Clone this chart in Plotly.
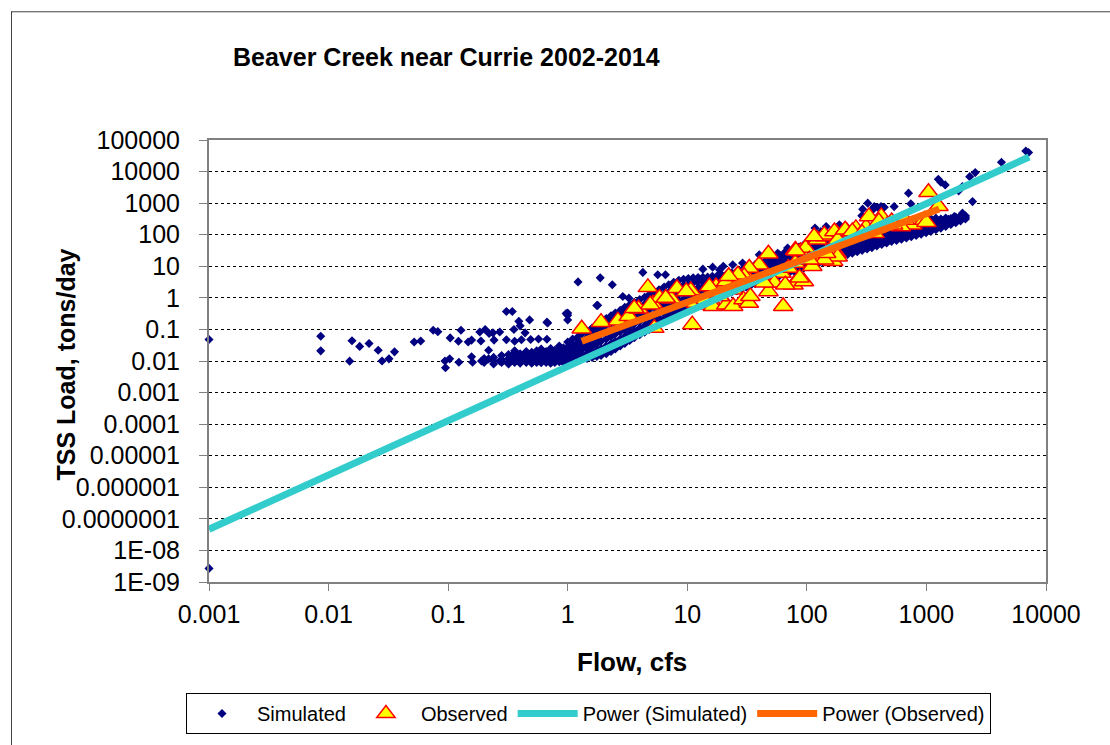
import plotly.graph_objects as go

FONT = "Liberation Sans, Arial, sans-serif"

# ---------------- data ----------------
# Simulated: scattered (isolated) points
sim_sparse_flow = [0.001, 0.001, 0.0086, 0.0086, 0.0157, 0.015, 0.0182, 0.0218, 0.026, 0.028,
                   0.032, 0.0356, 0.052, 0.059, 0.075, 0.082, 0.094, 0.095, 0.103, 0.104,
                   0.122, 0.123, 0.128, 0.147, 0.157, 0.157, 0.16, 0.184, 0.188, 0.19,
                   0.204, 0.218, 0.22, 0.218, 0.237, 0.242, 0.27, 0.27, 0.307, 0.344,
                   0.307, 0.34, 0.355, 0.36, 0.36, 0.39, 0.40, 0.41, 0.44, 0.48,
                   0.49, 0.57, 0.68, 0.67, 0.97, 1.0, 1.78, 1.22, 1.87, 2.36,
                   1.75, 4.25, 5.66, 6.57, 2.89, 3.25, 1.0, 1.0, 0.67, 13.5,
                   16.3, 18.6, 20, 24, 29, 40, 57, 69, 98, 117,
                   131, 145, 187, 213, 288, 293, 323, 359, 331, 351,
                   366, 390, 417, 444, 537, 708, 740, 1140, 1200, 1257,
                   1320, 1320, 1436, 1530, 1710, 1860, 2000, 2000, 2300, 2430,
                   2560, 4240, 6780, 7150]
sim_sparse_load = [0.048, 2.7e-9, 0.061, 0.021, 0.044, 0.0099, 0.029, 0.036, 0.022, 0.01,
                   0.0117, 0.0195, 0.040, 0.043, 0.094, 0.085, 0.01, 0.0061, 0.0117, 0.054,
                   0.042, 0.0091, 0.094, 0.040, 0.046, 0.0136, 0.0091, 0.083, 0.043, 0.01,
                   0.1, 0.022, 0.074, 0.0117, 0.078, 0.046, 0.083, 0.01, 0.37, 0.37,
                   0.047, 0.0102, 0.1, 0.042, 0.021, 0.18, 0.13, 0.047, 0.078, 0.2,
                   0.048, 0.05, 0.16, 0.049, 0.32, 0.28, 0.58, 3.2, 4.3, 2.6,
                   0.57, 6.4, 5.4, 5.4, 1.1, 0.98, 0.33, 0.2, 0.17, 8.1,
                   9.4, 7.8, 10, 11.2, 12.6, 23, 26, 37.8, 54, 163,
                   126, 182, 205, 182, 400, 645, 1000, 690, 380, 582,
                   776, 740, 776, 740, 776, 2070, 950, 265, 255, 5730,
                   4610, 280, 3780, 310, 378, 2450, 482, 3340, 6900, 1120,
                   9270, 19700, 44900, 40000]

# Simulated: the dense band, column by column (flow -> loads in that column)
band_flow = [0.20, 0.24, 0.28, 0.32, 0.36, 0.40, 0.45, 0.50, 0.55, 0.60,
             0.66, 0.72, 0.78, 0.85, 0.92, 1.0, 1.1, 1.2, 1.3, 1.45,
             1.6, 1.75, 1.9, 2.1, 2.3, 2.5, 2.75, 3.0, 3.3, 3.6,
             4.0, 4.4, 4.8, 5.3, 5.8, 6.4, 7.0, 7.7, 8.5, 9.3,
             10.2, 11.2, 12.3, 13.5, 14.8, 16.2, 17.8, 19.5, 21.4, 23.5,
             25.8, 28.3, 31, 34, 37, 41, 45, 49, 54, 59,
             65, 71, 78, 86, 94, 103, 113, 124, 136, 150,
             165, 181, 199, 219, 240, 264, 290, 319, 350, 385,
             423, 465, 511, 562, 618, 680, 747, 821, 903, 993,
             1090, 1200, 1320, 1450, 1600, 1760, 1930, 2120]
band_load = [
    [0.009, 0.012], [0.010, 0.013, 0.008], [0.009, 0.011, 0.015], [0.0095, 0.012, 0.016, 0.008],
    [0.009, 0.011, 0.014, 0.018], [0.0085, 0.010, 0.013, 0.017],
    [0.009, 0.011, 0.013, 0.016, 0.02], [0.0085, 0.010, 0.012, 0.015, 0.019],
    [0.009, 0.011, 0.013, 0.016, 0.021], [0.0088, 0.0105, 0.012, 0.014, 0.018, 0.024],
    [0.009, 0.011, 0.013, 0.016, 0.02], [0.0085, 0.010, 0.012, 0.015, 0.019, 0.025],
    [0.009, 0.011, 0.013, 0.017, 0.022], [0.0095, 0.0115, 0.014, 0.018, 0.024, 0.03],
    [0.009, 0.011, 0.014, 0.019, 0.026], [0.0095, 0.012, 0.015, 0.02, 0.028, 0.04],
    [0.01, 0.013, 0.017, 0.023, 0.032, 0.05], [0.011, 0.014, 0.019, 0.026, 0.036, 0.055],
    [0.012, 0.016, 0.022, 0.03, 0.045, 0.07], [0.012, 0.017, 0.025, 0.036, 0.055, 0.085],
    [0.013, 0.02, 0.03, 0.045, 0.07, 0.11], [0.014, 0.022, 0.035, 0.055, 0.09, 0.14],
    [0.015, 0.025, 0.042, 0.07, 0.11, 0.17], [0.017, 0.03, 0.05, 0.085, 0.14, 0.22],
    [0.02, 0.035, 0.06, 0.1, 0.17, 0.27], [0.024, 0.042, 0.072, 0.12, 0.2, 0.33],
    [0.03, 0.05, 0.085, 0.15, 0.25, 0.4], [0.036, 0.06, 0.1, 0.18, 0.3, 0.5],
    [0.045, 0.075, 0.125, 0.21, 0.36, 0.6], [0.055, 0.09, 0.15, 0.25, 0.43, 0.72],
    [0.068, 0.11, 0.18, 0.3, 0.52, 0.88], [0.082, 0.13, 0.22, 0.36, 0.62, 1.05],
    [0.1, 0.16, 0.26, 0.43, 0.74, 1.25], [0.12, 0.19, 0.31, 0.52, 0.9, 1.5],
    [0.145, 0.23, 0.37, 0.62, 1.05, 1.8], [0.21, 0.32, 0.5, 0.8, 1.3, 2.2],
    [0.24, 0.37, 0.58, 0.95, 1.5, 2.6], [0.28, 0.43, 0.68, 1.1, 1.8, 3.1],
    [0.33, 0.5, 0.8, 1.3, 2.1, 3.6], [0.38, 0.58, 0.92, 1.5, 2.5, 3.9],
    [0.44, 0.67, 1.05, 1.7, 2.8, 4.1], [0.5, 0.77, 1.2, 1.9, 3.0, 4.3],
    [0.58, 0.88, 1.35, 2.1, 3.2, 4.4], [0.67, 1.0, 1.5, 2.3, 3.4, 4.5],
    [0.77, 1.15, 1.7, 2.5, 3.6, 4.6], [0.88, 1.3, 1.9, 2.8, 3.8, 4.8],
    [1.0, 1.5, 2.2, 3.1, 4.0, 5.0], [1.15, 1.7, 2.4, 3.3, 4.2, 5.3],
    [1.3, 1.9, 2.7, 3.6, 4.5, 5.7], [1.5, 2.2, 3.0, 3.9, 4.8, 6.2],
    [1.7, 2.4, 3.3, 4.3, 5.3, 6.8], [1.9, 2.7, 3.7, 4.8, 5.9, 7.5],
    [2.2, 3.0, 4.1, 5.4, 6.7, 8.5], [2.5, 3.4, 4.6, 6.1, 7.7, 9.8],
    [2.8, 3.8, 5.2, 7.0, 8.9, 11.3], [3.2, 4.3, 5.9, 8.0, 10.3, 13.2],
    [3.6, 4.9, 6.7, 9.2, 11.9, 15.2], [4.0, 5.5, 7.6, 10.5, 13.6, 17.6],
    [4.5, 6.2, 8.6, 12, 15.6, 20], [5.0, 7.0, 9.7, 13.5, 18, 23],
    [5.6, 7.9, 11, 15.5, 20.5, 27], [6.2, 8.8, 12.5, 17.5, 23.5, 31],
    [7.0, 9.9, 14, 20, 27, 36], [7.8, 11, 16, 22.5, 31, 41],
    [8.7, 12.5, 18, 25.5, 35, 47], [9.7, 14, 20, 29, 39, 53],
    [10.8, 15.5, 22.5, 32, 44, 59], [12, 17.5, 25, 36, 49, 66],
    [13.5, 19.5, 28, 40, 55, 74], [15, 21.5, 31, 45, 61, 82],
    [17, 24, 35, 50, 68, 90], [19, 27, 39, 55, 75, 98],
    [21, 30, 43, 61, 83, 107], [23.5, 33.5, 48, 67, 91, 116],
    [26, 37, 53, 74, 100, 126], [29, 41, 58, 81, 108, 136],
    [32, 45, 64, 89, 117, 146], [35.5, 50, 71, 97, 127, 157],
    [39, 55, 78, 106, 137, 168], [44, 61, 85, 115, 148, 180],
    [49, 68, 93, 125, 159, 192], [55, 75, 102, 135, 170, 205],
    [61, 83, 112, 146, 182, 218], [66, 90, 120, 155, 192, 228],
    [72, 97, 128, 164, 202, 238], [79, 105, 138, 174, 212, 250],
    [86, 115, 149, 185, 224, 262], [95, 126, 161, 198, 236, 275],
    [104, 138, 175, 212, 250, 288], [115, 151, 190, 227, 264, 302],
    [128, 166, 205, 243, 280, 318], [143, 183, 222, 260, 296, 335],
    [162, 204, 243, 280, 315], [184, 228, 266, 302, 336],
    [210, 254, 292, 328], [240, 283, 321, 360],
    [275, 315, 355, 398], [315, 356, 400],
]

# Observed
obs_flow = [1.31, 1.9, 2.63, 3.24, 3.92, 4.68, 5.16, 5.86, 7.35, 5.3,
            10.7, 11.0, 11.8, 14.3, 14.3, 16.3, 16.4, 17.4, 21.0, 24.0,
            21.2, 24.2, 29.5, 32.7, 33.7, 21.2, 25.9, 30.6, 39.9, 47.7,
            51.9, 47.7, 63.4, 61.2, 70, 80, 77.3, 94.4, 80, 88.3,
            97.5, 111, 127, 123, 141, 136, 166, 177, 177, 216,
            255, 301, 368, 419, 512, 604, 762, 962, 1040, 1260,
            612, 1000, 81, 87, 53.5, 140, 170, 181, 181, 140,
            209, 257, 313, 380, 33, 30, 15.3, 18.6, 24, 8.2,
            9.8, 4.9, 6.6, 3.6, 44, 66, 105, 115, 145, 240,
            290, 331, 400, 473, 527, 660, 26.5, 22.2]
obs_load = [0.105, 0.17, 0.19, 0.26, 0.45, 2.15, 0.65, 1.0, 0.93, 0.11,
            1.7, 0.142, 0.69, 0.61, 0.88, 0.69, 0.54, 2.3, 2.9, 3.3,
            0.61, 0.54, 0.88, 0.69, 1.12, 3.3, 4.8, 5.4, 11.2, 25,
            3.0, 1.6, 0.54, 6.1, 8.8, 12.6, 2.6, 3.3, 33, 29.5,
            38, 10, 16, 69, 88, 18, 14.4, 26, 112, 126,
            112, 126, 112, 380, 263, 205, 205, 295, 2200, 800,
            182, 250, 31, 4.3, 3.0, 99, 126, 69, 20, 16,
            143, 159, 174, 159, 8.8, 4.8, 2.3, 1.1, 1.8, 2.0,
            1.6, 0.61, 0.99, 0.47, 3.0, 2.6, 16, 88, 26, 126,
            112, 380, 263, 205, 205, 295, 5.4, 4.8]

# Power trend lines (end points)
sim_fit_flow = [0.001, 7230]
sim_fit_load = [4.7e-8, 29000]
obs_fit_flow = [1.31, 1280]
obs_fit_load = [0.042, 650]

x_tickvals = [0.001, 0.01, 0.1, 1, 10, 100, 1000, 10000]
x_ticktext = ["0.001", "0.01", "0.1", "1", "10", "100", "1000", "10000"]
y_tickvals = [1e5, 1e4, 1e3, 1e2, 1e1, 1, 1e-1, 1e-2, 1e-3, 1e-4, 1e-5, 1e-6, 1e-7, 1e-8, 1e-9]
y_ticktext = ["100000", "10000", "1000", "100", "10", "1", "0.1", "0.01", "0.001",
              "0.0001", "0.00001", "0.000001", "0.0000001", "1E-08", "1E-09"]

# ---------------- assemble ----------------
sim_flow = list(sim_sparse_flow)
sim_load = list(sim_sparse_load)
for f, col in zip(band_flow, band_load):
    for v in col:
        sim_flow.append(f)
        sim_load.append(v)

fig = go.Figure()
fig.add_trace(go.Scatter(
    x=sim_flow, y=sim_load, mode="markers", name="Simulated",
    marker=dict(symbol="diamond", size=7, color="#000080", line=dict(width=0)),
    cliponaxis=False,
))
fig.add_trace(go.Scatter(
    x=obs_flow, y=obs_load, mode="markers", name="Observed",
    marker=dict(symbol="triangle-up", size=17, color="#FFFF00",
                line=dict(color="#FF0000", width=1.5)),
    cliponaxis=False,
))
fig.add_trace(go.Scatter(
    x=sim_fit_flow, y=sim_fit_load, mode="lines", name="Power (Simulated)",
    line=dict(color="#33CCCC", width=7),
))
fig.add_trace(go.Scatter(
    x=obs_fit_flow, y=obs_fit_load, mode="lines", name="Power (Observed)",
    line=dict(color="#FF6600", width=7),
))

# plot area in pixels: left 209, right 1046, top 140, bottom 583
L, R, T, B = 209, 1046, 140, 583
W, H = 1110, 745
PW, PH = R - L, B - T


def px(xp):
    return (xp - L) / PW


def py(yp):
    return (B - yp) / PH


fig.update_layout(
    width=W, height=H,
    margin=dict(l=L, r=W - R, t=T, b=H - B, pad=0),
    paper_bgcolor="white", plot_bgcolor="white",
    font=dict(family=FONT, color="black"),
    showlegend=True,
    legend=dict(
        orientation="h", x=px(186), y=py(693), xanchor="left", yanchor="top",
        bordercolor="black", borderwidth=1, bgcolor="white",
        font=dict(size=20, family=FONT), itemwidth=60,
    ),
    xaxis=dict(
        type="log", range=[-3, 4], tickvals=x_tickvals, ticktext=x_ticktext,
        showgrid=False, zeroline=False,
        showline=True, linecolor="#808080", linewidth=2, mirror=True,
        ticks="outside", ticklen=7, tickcolor="#808080", tickwidth=1,
        tickfont=dict(size=25, family=FONT), ticklabelstandoff=2,
    ),
    yaxis=dict(
        type="log", range=[-9, 5], tickvals=y_tickvals, ticktext=y_ticktext,
        showgrid=True, gridcolor="#000000", gridwidth=1, griddash="dot",
        zeroline=False,
        showline=True, linecolor="#808080", linewidth=2, mirror=True,
        ticks="outside", ticklen=8, tickcolor="#808080", tickwidth=1,
        tickfont=dict(size=25, family=FONT), ticklabelstandoff=14,
    ),
    annotations=[
        dict(text="<b>Beaver Creek near Currie 2002-2014</b>", xref="paper", yref="paper",
             x=px(231), y=py(57), xanchor="left", yanchor="middle", showarrow=False,
             font=dict(size=25, family=FONT)),
        dict(text="<b>Flow, cfs</b>", xref="paper", yref="paper",
             x=px(632), y=py(663), xanchor="center", yanchor="middle", showarrow=False,
             font=dict(size=26, family=FONT)),
        dict(text="<b>TSS Load, tons/day</b>", xref="paper", yref="paper",
             x=px(66), y=py(365), xanchor="center", yanchor="middle", showarrow=False,
             textangle=-90, font=dict(size=25, family=FONT)),
    ],
    shapes=[
        dict(type="line", xref="paper", yref="paper", x0=px(11.5), x1=px(11.5),
             y0=py(11), y1=py(760), line=dict(color="#444444", width=1)),
        dict(type="line", xref="paper", yref="paper", x0=px(11), x1=px(1120),
             y0=py(11.5), y1=py(11.5), line=dict(color="#444444", width=1)),
    ],
)

fig.write_html("out.html", config={"displayModeBar": False},
               post_script="document.body.style.margin='0';document.body.style.overflow='hidden';")
